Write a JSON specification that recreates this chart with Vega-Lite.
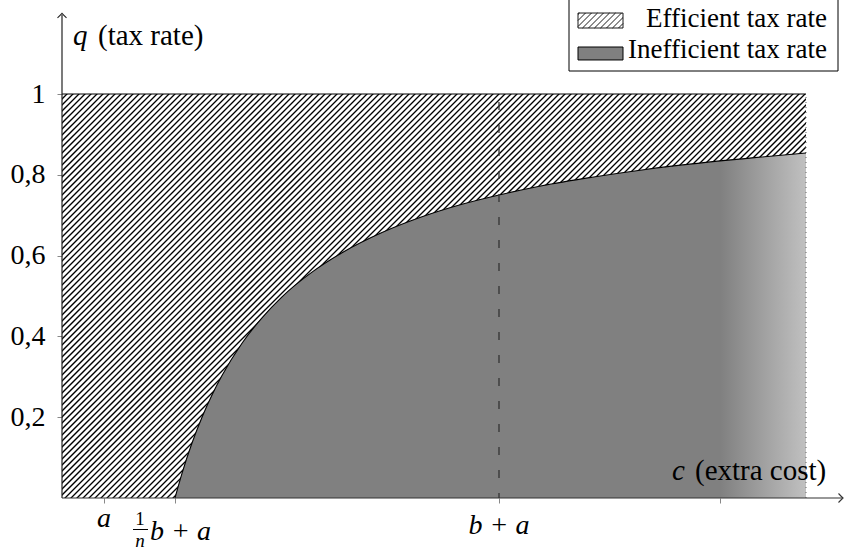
{
  "$schema": "https://vega.github.io/schema/vega-lite/v6.json",
  "width": 744,
  "height": 404,
  "autosize": {"type": "none"},
  "padding": {"left": 62, "top": 94, "right": 39, "bottom": 58},
  "background": "white",
  "config": {"view": {"stroke": null}, "font": "Liberation Serif"},
  "datasets": {
    "curve": [
      {"c": 1.13, "q": 0},
      {"c": 1.2, "q": 0.061},
      {"c": 1.3, "q": 0.136},
      {"c": 1.4, "q": 0.2},
      {"c": 1.5, "q": 0.255},
      {"c": 1.6, "q": 0.303},
      {"c": 1.8, "q": 0.383},
      {"c": 2.0, "q": 0.446},
      {"c": 2.2, "q": 0.498},
      {"c": 2.5, "q": 0.559},
      {"c": 2.8, "q": 0.607},
      {"c": 3.2, "q": 0.657},
      {"c": 3.6, "q": 0.696},
      {"c": 4.0, "q": 0.727},
      {"c": 4.37, "q": 0.75},
      {"c": 4.8, "q": 0.773},
      {"c": 5.3, "q": 0.794},
      {"c": 5.8, "q": 0.812},
      {"c": 6.3, "q": 0.827},
      {"c": 6.9, "q": 0.842},
      {"c": 7.44, "q": 0.854}
    ],
    "ticks": [
      {"c": 0.42, "name": "a"},
      {"c": 1.13, "name": "1/n b + a"},
      {"c": 4.37, "name": "b + a"},
      {"c": 6.58, "name": ""}
    ]
  },
  "layer": [
    {
      "data": {"values": [{}]},
      "mark": {"type": "rule", "clip": true, "stroke": "#000", "strokeWidth": 1100, "strokeDash": [1.35, 2.893], "strokeCap": "butt"},
      "encoding": {
        "x": {"datum": -0.07, "type": "quantitative", "scale": {"domain": [0, 7.44], "nice": false, "zero": false},
          "axis": {"values": [0.42, 1.13, 4.37, 6.58], "labels": false, "domain": false, "ticks": true, "tickSize": 5, "tickColor": "#888", "grid": false, "title": null}},
        "y": {"datum": 1.0173, "type": "quantitative", "scale": {"domain": [0, 1], "nice": false, "zero": false},
          "axis": {"values": [0.2, 0.4, 0.6, 0.8, 1], "labelExpr": "datum.value == 1 ? '1' : replace(format(datum.value, '.1f'), '.', ',')",
            "labelFont": "Liberation Serif", "labelFontSize": 28, "labelColor": "#000", "tickColor": "#888", "tickSize": 5,
            "labelPadding": 12, "domain": false, "grid": false, "title": null}},
        "x2": {"datum": 5.81},
        "y2": {"datum": -0.438}
      }
    },
    {
      "data": {"name": "curve"},
      "mark": {
        "type": "area",
        "interpolate": "monotone",
        "fill": {"gradient": "linear", "x1": 0, "y1": 0, "x2": 1, "y2": 0,
          "stops": [{"offset": 0, "color": "#808080"}, {"offset": 0.864, "color": "#808080"}, {"offset": 1, "color": "#c0c0c0"}]},
        "stroke": null
      },
      "encoding": {
        "x": {"field": "c", "type": "quantitative"},
        "y": {"field": "q", "type": "quantitative"},
        "y2": {"datum": 0}
      }
    },
    {
      "data": {"name": "curve"},
      "mark": {"type": "line", "interpolate": "monotone", "stroke": "#000", "strokeWidth": 1.1},
      "encoding": {
        "x": {"field": "c", "type": "quantitative"},
        "y": {"field": "q", "type": "quantitative"}
      }
    },
    {
      "data": {"values": [{}]},
      "mark": {"type": "rule", "stroke": "#000", "strokeWidth": 1.1},
      "encoding": {
        "x": {"datum": 0, "type": "quantitative"},
        "x2": {"datum": 7.44},
        "y": {"datum": 1, "type": "quantitative"}
      }
    },
    {
      "data": {"values": [{}]},
      "mark": {"type": "rule", "stroke": "#666", "strokeWidth": 1, "strokeDash": [1, 4]},
      "encoding": {
        "x": {"datum": 7.44, "type": "quantitative"},
        "y": {"datum": 0, "type": "quantitative"},
        "y2": {"datum": 1}
      }
    },
    {
      "data": {"name": "ticks"},
      "transform": [{"filter": "datum.name == 'b + a'"}],
      "mark": {"type": "rule", "stroke": "#333", "strokeWidth": 1.3, "strokeDash": [8, 15], "strokeDashOffset": 15},
      "encoding": {
        "x": {"field": "c", "type": "quantitative"},
        "y": {"datum": 1, "type": "quantitative"},
        "y2": {"datum": 0}
      }
    },
    {
      "data": {"values": [{}]},
      "mark": {"type": "rule", "stroke": "#333", "strokeWidth": 1.1, "clip": false},
      "encoding": {
        "x": {"datum": 0, "type": "quantitative"},
        "x2": {"datum": 7.8},
        "y": {"datum": 0, "type": "quantitative"}
      }
    },
    {
      "data": {"values": [{}]},
      "mark": {"type": "rule", "stroke": "#222", "strokeWidth": 1.2, "clip": false},
      "encoding": {
        "x": {"datum": 0, "type": "quantitative"},
        "y": {"datum": 0, "type": "quantitative"},
        "y2": {"datum": 1.1955}
      }
    },
    {
      "data": {"values": [{}]},
      "mark": {"type": "point", "shape": "M-1,-1Q-0.3,-0.25 0,0Q-0.3,0.25 -1,1", "size": 81, "filled": false, "stroke": "#333", "strokeWidth": 1.1, "opacity": 1},
      "encoding": {
        "x": {"datum": 7.81, "type": "quantitative"},
        "y": {"datum": 0, "type": "quantitative"}
      }
    },
    {
      "data": {"values": [{}]},
      "mark": {"type": "point", "shape": "M-1,1Q-0.25,0.3 0,0Q0.25,0.3 1,1", "size": 81, "filled": false, "stroke": "#222", "strokeWidth": 1.1, "opacity": 1},
      "encoding": {
        "x": {"datum": 0, "type": "quantitative"},
        "y": {"datum": 1.1995, "type": "quantitative"}
      }
    },
    {
      "data": {"name": "ticks"},
      "transform": [{"filter": "datum.name == 'a'"}],
      "mark": {"type": "text", "fontStyle": "italic", "fontSize": 28, "align": "center", "baseline": "alphabetic", "color": "#000"},
      "encoding": {
        "x": {"field": "c", "type": "quantitative"},
        "y": {"datum": -0.0718, "type": "quantitative"},
        "text": {"field": "name"}
      }
    },
    {
      "data": {"name": "ticks"},
      "transform": [{"filter": "datum.name == 'b + a'"}],
      "mark": {"type": "text", "fontStyle": "italic", "fontSize": 28, "align": "center", "baseline": "alphabetic", "color": "#000"},
      "encoding": {
        "x": {"field": "c", "type": "quantitative"},
        "y": {"datum": -0.0891, "type": "quantitative"},
        "text": {"field": "name"}
      }
    },
    {
      "data": {"name": "ticks"},
      "transform": [{"filter": "datum.name == '1/n b + a'"}],
      "mark": {"type": "text", "text": "b + a", "fontStyle": "italic", "fontSize": 28, "align": "left", "baseline": "alphabetic", "dx": -25, "color": "#000"},
      "encoding": {
        "x": {"field": "c", "type": "quantitative"},
        "y": {"datum": -0.104, "type": "quantitative"}
      }
    },
    {
      "data": {"name": "ticks"},
      "transform": [{"filter": "datum.name == '1/n b + a'"}],
      "mark": {"type": "text", "text": "1", "fontSize": 19, "align": "center", "baseline": "alphabetic", "dx": -35, "color": "#000"},
      "encoding": {
        "x": {"field": "c", "type": "quantitative"},
        "y": {"datum": -0.0668, "type": "quantitative"}
      }
    },
    {
      "data": {"name": "ticks"},
      "transform": [{"filter": "datum.name == '1/n b + a'"}],
      "mark": {"type": "text", "text": "n", "fontStyle": "italic", "fontSize": 19, "align": "center", "baseline": "alphabetic", "dx": -35, "color": "#000"},
      "encoding": {
        "x": {"field": "c", "type": "quantitative"},
        "y": {"datum": -0.1213, "type": "quantitative"}
      }
    },
    {
      "data": {"values": [{}]},
      "mark": {"type": "rule", "stroke": "#000", "strokeWidth": 1, "clip": false},
      "encoding": {
        "x": {"datum": 0.71, "type": "quantitative"},
        "x2": {"datum": 0.86},
        "y": {"datum": -0.078, "type": "quantitative"}
      }
    },
    {
      "data": {"values": [{}]},
      "mark": {"type": "text", "text": "q", "fontStyle": "italic", "fontSize": 29, "align": "left", "baseline": "alphabetic", "color": "#000"},
      "encoding": {
        "x": {"datum": 0.11, "type": "quantitative"},
        "y": {"datum": 1.1213, "type": "quantitative"}
      }
    },
    {
      "data": {"values": [{}]},
      "mark": {"type": "text", "text": "(tax rate)", "fontSize": 29, "align": "left", "baseline": "alphabetic", "color": "#000"},
      "encoding": {
        "x": {"datum": 0.36, "type": "quantitative"},
        "y": {"datum": 1.1213, "type": "quantitative"}
      }
    },
    {
      "data": {"values": [{}]},
      "mark": {"type": "text", "text": "c", "fontStyle": "italic", "fontSize": 29, "align": "left", "baseline": "alphabetic", "color": "#000"},
      "encoding": {
        "x": {"datum": 6.1, "type": "quantitative"},
        "y": {"datum": 0.0446, "type": "quantitative"}
      }
    },
    {
      "data": {"values": [{}]},
      "mark": {"type": "text", "text": "(extra cost)", "fontSize": 29, "align": "left", "baseline": "alphabetic", "color": "#000"},
      "encoding": {
        "x": {"datum": 6.33, "type": "quantitative"},
        "y": {"datum": 0.0446, "type": "quantitative"}
      }
    },
    {
      "data": {"values": [{}]},
      "mark": {"type": "rect", "fill": "#fff", "stroke": "#000", "strokeWidth": 1, "clip": false},
      "encoding": {
        "x": {"datum": 5.07, "type": "quantitative"},
        "x2": {"datum": 7.76},
        "y": {"datum": 1.0569, "type": "quantitative"},
        "y2": {"datum": 1.28}
      }
    },
    {
      "data": {"values": [{}]},
      "mark": {"type": "point", "shape": "M-1,-0.333H1V0.333H-1Z M-1,-0.267L-0.933,-0.333 M-1,0L-0.667,-0.333 M-1,0.267L-0.4,-0.333 M-0.8,0.333L-0.133,-0.333 M-0.533,0.333L0.133,-0.333 M-0.267,0.333L0.4,-0.333 M0,0.333L0.667,-0.333 M0.267,0.333L0.933,-0.333 M0.533,0.333L1,-0.133 M0.8,0.333L1,0.133",
        "size": 2025, "filled": false, "stroke": "#000", "strokeWidth": 0.9, "opacity": 1},
      "encoding": {
        "x": {"datum": 5.385, "type": "quantitative"},
        "y": {"datum": 1.1819, "type": "quantitative"}
      }
    },
    {
      "data": {"values": [{}]},
      "mark": {"type": "rect", "fill": "#808080", "stroke": "#000", "strokeWidth": 1, "clip": false},
      "encoding": {
        "x": {"datum": 5.16, "type": "quantitative"},
        "x2": {"datum": 5.61},
        "y": {"datum": 1.0842, "type": "quantitative"},
        "y2": {"datum": 1.1163}
      }
    },
    {
      "data": {"values": [{}]},
      "mark": {"type": "text", "text": "Efficient tax rate", "fontSize": 27, "align": "right", "baseline": "alphabetic", "color": "#000"},
      "encoding": {
        "x": {"datum": 7.65, "type": "quantitative"},
        "y": {"datum": 1.1658, "type": "quantitative"}
      }
    },
    {
      "data": {"values": [{}]},
      "mark": {"type": "text", "text": "Inefficient tax rate", "fontSize": 27, "align": "right", "baseline": "alphabetic", "color": "#000"},
      "encoding": {
        "x": {"datum": 7.65, "type": "quantitative"},
        "y": {"datum": 1.0891, "type": "quantitative"}
      }
    }
  ]
}
